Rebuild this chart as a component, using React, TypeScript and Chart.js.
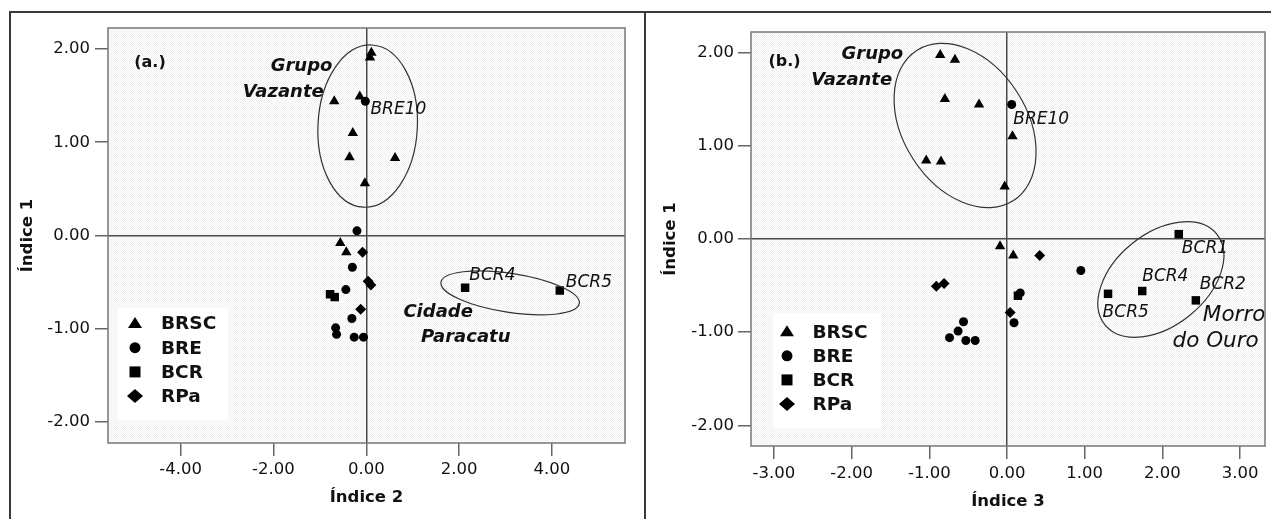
import React, { useEffect, useRef } from 'react';
import { Chart, registerables } from 'chart.js';

Chart.register(...registerables);

type Pt = [number, number];

const FONT = '"DejaVu Sans", "Liberation Sans", Arial, sans-serif';
const H = 519;

const seriesNames = ['BRSC', 'BRE', 'BCR', 'RPa'];
const pointStyles = ['triangle', 'circle', 'rect', 'rectRot'];

// (a.)  x = Índice 2, y = Índice 1
const brscA: Pt[] = [[0.11, 1.96], [0.08, 1.91], [-0.69, 1.44], [-0.14, 1.49], [-0.29, 1.10], [-0.36, 0.84], [0.62, 0.83], [-0.03, 0.56], [-0.56, -0.08], [-0.43, -0.18]];
const breA: Pt[] = [[-0.20, 0.05], [-0.02, 1.44], [-0.30, -0.34], [-0.44, -0.58], [-0.31, -0.89], [-0.66, -0.99], [-0.64, -1.06], [-0.26, -1.09], [-0.06, -1.09]];
const bcrA: Pt[] = [[-0.78, -0.63], [-0.68, -0.66], [2.13, -0.56], [4.17, -0.59]];
const rpaA: Pt[] = [[-0.08, -0.18], [0.04, -0.49], [0.10, -0.53], [-0.12, -0.79]];

// (b.)  x = Índice 3, y = Índice 1
const brscB: Pt[] = [[-0.86, 1.97], [-0.67, 1.92], [-0.80, 1.50], [-0.36, 1.44], [0.07, 1.10], [-1.04, 0.84], [-0.85, 0.83], [-0.03, 0.56], [-0.09, -0.08], [0.08, -0.18]];
const breB: Pt[] = [[0.06, 1.44], [0.95, -0.34], [0.17, -0.58], [0.09, -0.90], [-0.56, -0.89], [-0.63, -0.99], [-0.74, -1.06], [-0.53, -1.09], [-0.41, -1.09]];
const bcrB: Pt[] = [[2.21, 0.05], [1.74, -0.56], [2.43, -0.66], [1.30, -0.59], [0.14, -0.61]];
const rpaB: Pt[] = [[-0.91, -0.51], [-0.81, -0.48], [0.42, -0.18], [0.04, -0.79]];

const yTickValues = [-2, -1, 0, 1, 2];
const xTickValuesA = [-4, -2, 0, 2, 4];
const xTickValuesB = [-3, -2, -1, 0, 1, 2, 3];

const xRangeA: Pt = [-5.565, 5.575];
const yRangeA: Pt = [-2.225, 2.225];
const xRangeB: Pt = [-3.295, 3.32];
const yRangeB: Pt = [-2.222, 2.218];

type Note = { text: string; x: number; y: number; kind: string };

const notesA: Note[] = [
  { text: '(a.)', x: -5.0, y: 1.85, kind: 'tag' },
  { text: 'Grupo', x: -2.06, y: 1.81, kind: 'group' },
  { text: 'Vazante', x: -2.66, y: 1.53, kind: 'group' },
  { text: 'BRE10', x: 0.09, y: 1.35, kind: 'sample' },
  { text: 'BCR4', x: 2.22, y: -0.43, kind: 'sample' },
  { text: 'BCR5', x: 4.3, y: -0.51, kind: 'sample' },
  { text: 'Cidade', x: 0.8, y: -0.82, kind: 'group' },
  { text: 'Paracatu', x: 1.18, y: -1.09, kind: 'group' },
];

const notesB: Note[] = [
  { text: '(b.)', x: -3.07, y: 1.9, kind: 'tag' },
  { text: 'Grupo', x: -2.13, y: 1.98, kind: 'group' },
  { text: 'Vazante', x: -2.52, y: 1.7, kind: 'group' },
  { text: 'BRE10', x: 0.08, y: 1.28, kind: 'sample' },
  { text: 'BCR1', x: 2.25, y: -0.1, kind: 'sample' },
  { text: 'BCR4', x: 1.74, y: -0.41, kind: 'sample' },
  { text: 'BCR2', x: 2.48, y: -0.49, kind: 'sample' },
  { text: 'BCR5', x: 1.23, y: -0.79, kind: 'sample' },
  { text: 'Morro', x: 2.52, y: -0.82, kind: 'big' },
  { text: 'do Ouro', x: 2.13, y: -1.1, kind: 'big' },
];

// group outlines: centre in data units, semi-axes (px) and tilt (deg)
const ringsA = [
  { cx: 0.03, cy: 1.173, rx: 49.7, ry: 81.2, rot: 3 },
  { cx: 3.1, cy: -0.615, rx: 70, ry: 19.5, rot: 8.7 },
];
const ringsB = [
  { cx: -0.54, cy: 1.215, rx: 89.3, ry: 61.8, rot: 57.2 },
  { cx: 1.98, cy: -0.436, rx: 72, ry: 46, rot: -39.1 },
];

const NOTE_FONTS: Record<string, string> = {
  tag: `bold 16px ${FONT}`,
  group: `italic bold 18px ${FONT}`,
  sample: `italic 17px ${FONT}`,
  big: `italic 21.5px ${FONT}`,
};

let patternCache: CanvasPattern | null = null;
function getPattern(ctx: CanvasRenderingContext2D) {
  if (patternCache) return patternCache;
  const pc = document.createElement('canvas');
  pc.width = 2;
  pc.height = 2;
  const p = pc.getContext('2d')!;
  p.fillStyle = '#ffffff';
  p.fillRect(0, 0, 2, 2);
  p.fillStyle = '#f0f0f0';
  p.fillRect(0, 0, 1, 1);
  p.fillRect(1, 1, 1, 1);
  patternCache = ctx.createPattern(pc, 'repeat');
  return patternCache!;
}

function drawMarker(ctx: CanvasRenderingContext2D, style: string, x: number, y: number) {
  ctx.beginPath();
  if (style === 'triangle') {
    ctx.moveTo(x, y - 6.5);
    ctx.lineTo(x + 7, y + 4.5);
    ctx.lineTo(x - 7, y + 4.5);
    ctx.closePath();
  } else if (style === 'circle') {
    ctx.arc(x, y, 5.5, 0, Math.PI * 2);
  } else if (style === 'rect') {
    ctx.rect(x - 5.5, y - 5.5, 11, 11);
  } else {
    ctx.moveTo(x, y - 7);
    ctx.lineTo(x + 8, y);
    ctx.lineTo(x, y + 7);
    ctx.lineTo(x - 8, y);
    ctx.closePath();
  }
  ctx.fill();
}

const deco = {
  id: 'deco',
  beforeDraw(chart: any) {
    const { ctx, chartArea: a } = chart;
    ctx.save();
    ctx.fillStyle = getPattern(ctx);
    ctx.fillRect(a.left, a.top, a.right - a.left, a.bottom - a.top);
    ctx.restore();
  },
  afterDraw(chart: any, _args: any, opts: any) {
    const { ctx, chartArea: a, scales } = chart;
    const xs = scales.x;
    const ys = scales.y;
    ctx.save();
    // group outlines
    ctx.strokeStyle = '#333';
    ctx.lineWidth = 1.2;
    for (const r of opts.rings) {
      ctx.beginPath();
      ctx.ellipse(xs.getPixelForValue(r.cx), ys.getPixelForValue(r.cy), r.rx, r.ry, (r.rot * Math.PI) / 180, 0, Math.PI * 2);
      ctx.stroke();
    }
    // annotations
    ctx.fillStyle = '#111';
    ctx.textAlign = 'left';
    ctx.textBaseline = 'middle';
    for (const n of opts.notes as Note[]) {
      ctx.font = NOTE_FONTS[n.kind];
      ctx.fillText(n.text, xs.getPixelForValue(n.x), ys.getPixelForValue(n.y));
    }
    // legend
    const L = opts.legend;
    const bx = a.left + L.left;
    const by = a.top + L.top;
    ctx.fillStyle = '#ffffff';
    ctx.fillRect(bx, by, L.width, L.height);
    ctx.font = `bold 18.5px ${FONT}`;
    chart.data.datasets.forEach((ds: any, i: number) => {
      const yy = by + L.first + i * L.step;
      ctx.fillStyle = '#000';
      drawMarker(ctx, ds.pointStyle, bx + L.marker, yy);
      ctx.fillStyle = '#111';
      ctx.fillText(ds.label, bx + L.text, yy + 1);
    });
    // plot frame
    ctx.strokeStyle = '#777';
    ctx.lineWidth = 1.5;
    ctx.strokeRect(a.left, a.top, a.right - a.left, a.bottom - a.top);
    ctx.restore();
  },
};

type PanelSpec = {
  series: Pt[][];
  xTicks: number[];
  xRange: Pt;
  yRange: Pt;
  xTitle: string;
  yWidth: number;
  xHeight: number;
  padTop: number;
  padRight: number;
  yTitlePad: number;
  xTitlePad: number;
  xTickPad: number;
  yTickPad: number;
  notes: Note[];
  rings: any[];
  legend: any;
};

const pointRadii = [6, 4.5, 6, 5.5];

function buildConfig(p: PanelSpec): any {
  const datasets = p.series.map((pts, i) => ({
    label: seriesNames[i],
    data: pts.map(([x, y]) => ({ x, y })),
    pointStyle: pointStyles[i],
    pointRadius: pointRadii[i],
    backgroundColor: '#000',
    borderColor: '#000',
    borderWidth: 0,
    showLine: false,
  }));
  const zeroColor = (c: any) => (c.tick && c.tick.value === 0 ? '#4a4a4a' : 'rgba(0,0,0,0)');
  const tickFont = { family: FONT, size: 16.5 };
  const titleFont = { family: FONT, size: 16.5, weight: 'bold' as const };
  return {
    type: 'scatter',
    data: { datasets },
    options: {
      responsive: false,
      animation: false,
      events: [],
      layout: { padding: { left: 0, top: p.padTop, right: p.padRight, bottom: 0 } },
      scales: {
        x: {
          type: 'linear',
          min: p.xRange[0],
          max: p.xRange[1],
          afterBuildTicks: (s: any) => {
            s.ticks = p.xTicks.map((v) => ({ value: v }));
          },
          afterFit: (s: any) => {
            s.height = p.xHeight;
          },
          ticks: {
            callback: (v: any) => Number(v).toFixed(2),
            font: tickFont,
            color: '#111',
            padding: p.xTickPad,
            maxRotation: 0,
            autoSkip: false,
          },
          grid: {
            color: zeroColor,
            lineWidth: 1.5,
            drawTicks: true,
            tickLength: 13,
            tickColor: '#666',
            tickWidth: 1.5,
          },
          border: { display: false },
          title: {
            display: true,
            text: p.xTitle,
            font: titleFont,
            color: '#111',
            padding: { top: 0, bottom: p.xTitlePad },
          },
        },
        y: {
          type: 'linear',
          min: p.yRange[0],
          max: p.yRange[1],
          afterBuildTicks: (s: any) => {
            s.ticks = yTickValues.map((v) => ({ value: v }));
          },
          afterFit: (s: any) => {
            s.width = p.yWidth;
          },
          ticks: {
            callback: (v: any) => Number(v).toFixed(2),
            font: tickFont,
            color: '#111',
            padding: p.yTickPad,
            autoSkip: false,
          },
          grid: {
            color: zeroColor,
            lineWidth: 1.5,
            drawTicks: true,
            tickLength: 13,
            tickColor: '#666',
            tickWidth: 1.5,
          },
          border: { display: false },
          title: {
            display: true,
            text: 'Índice 1',
            font: titleFont,
            color: '#111',
            padding: { top: p.yTitlePad, bottom: 0 },
          },
        },
      },
      plugins: {
        legend: { display: false },
        tooltip: { enabled: false },
        deco: { notes: p.notes, rings: p.rings, legend: p.legend },
      },
    },
    plugins: [deco],
  };
}

const panelA: PanelSpec = {
  series: [brscA, breA, bcrA, rpaA],
  xTicks: xTickValuesA,
  xRange: xRangeA,
  yRange: yRangeA,
  xTitle: 'Índice 2',
  yWidth: 108,
  xHeight: 76,
  padTop: 28,
  padRight: 19,
  yTitlePad: 18,
  xTitlePad: 11,
  xTickPad: 4,
  yTickPad: 5,
  notes: notesA,
  rings: ringsA,
  legend: { left: 10, top: 280, width: 110, height: 112, first: 15.5, step: 24.2, marker: 17, text: 43 },
};

const panelB: PanelSpec = {
  series: [brscB, breB, bcrB, rpaB],
  xTicks: xTickValuesB,
  xRange: xRangeB,
  yRange: yRangeB,
  xTitle: 'Índice 3',
  yWidth: 106,
  xHeight: 73,
  padTop: 32,
  padRight: 2,
  yTitlePad: 16,
  xTitlePad: 7.5,
  xTickPad: 5,
  yTickPad: 4,
  notes: notesB,
  rings: ringsB,
  legend: { left: 22, top: 281, width: 108, height: 115, first: 18.7, step: 24.1, marker: 14, text: 39.4 },
};

function Panel(props: { left: number; width: number; spec: PanelSpec }) {
  const ref = useRef<HTMLCanvasElement | null>(null);
  useEffect(() => {
    if (!ref.current) return;
    const chart = new Chart(ref.current, buildConfig(props.spec));
    return () => chart.destroy();
  }, []);
  return (
    <canvas
      ref={ref}
      width={props.width}
      height={H}
      style={{ position: 'absolute', left: props.left, top: 0, width: props.width, height: H }}
    />
  );
}

export default function App() {
  const line = '#3a3a3a';
  return (
    <div style={{ position: 'fixed', left: 0, top: 0, width: 1271, height: H, background: '#fff', overflow: 'hidden' }}>
      <div style={{ position: 'absolute', left: 9, top: 11, width: 1262, height: 2, background: line }} />
      <div style={{ position: 'absolute', left: 9, top: 11, width: 2, height: 520, background: line }} />
      <div style={{ position: 'absolute', left: 644, top: 11, width: 2, height: 520, background: line }} />
      <Panel left={0} width={644} spec={panelA} />
      <Panel left={645} width={626} spec={panelB} />
    </div>
  );
}
